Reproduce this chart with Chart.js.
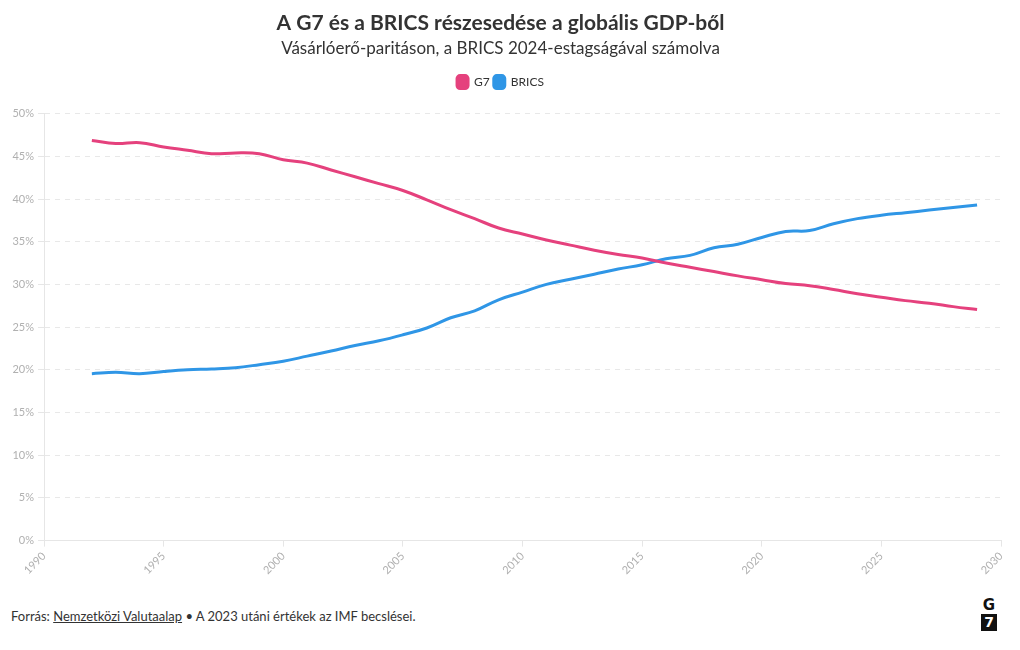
<!DOCTYPE html>
<html><head><meta charset="utf-8">
<script src="https://cdn.jsdelivr.net/npm/chart.js@4"></script>
<style>
html,body{margin:0;padding:0;background:#fff;}
body{width:1020px;height:650px;position:relative;overflow:hidden;font-family:"Lato","Noto Sans",sans-serif;}
#wrap{position:absolute;left:0;top:0;width:1020px;height:580px;}
#foot{position:absolute;left:11px;top:608px;font-size:13px;color:#333;}
#foot u{text-decoration:underline;}
#logo{position:absolute;left:981px;top:598px;width:16px;text-align:center;font-family:"DejaVu Sans",sans-serif;}
#logo .g{font-weight:bold;font-size:15px;line-height:15px;color:#111;}
#logo .s{background:#111;color:#fff;font-weight:bold;font-size:14px;line-height:17px;margin-top:1px;}
</style></head>
<body>
<div id="wrap"><canvas id="c"></canvas></div>
<div id="foot">Forrás: <u>Nemzetközi Valutaalap</u> • A 2023 utáni értékek az IMF becslései.</div>
<div id="logo"><div class="g">G</div><div class="s">7</div></div>
<script>
const years = [1992,1993,1994,1995,1996,1997,1998,1999,2000,2001,2002,2003,2004,2005,2006,2007,2008,2009,2010,2011,2012,2013,2014,2015,2016,2017,2018,2019,2020,2021,2022,2023,2024,2025,2026,2027,2028,2029];
const g7 = [46.85,46.5,46.6,46.1,45.7,45.3,45.4,45.3,44.6,44.2,43.4,42.6,41.8,41.0,39.9,38.75,37.7,36.6,35.9,35.2,34.6,34.0,33.5,33.1,32.5,32.0,31.5,31.0,30.55,30.1,29.85,29.4,28.9,28.5,28.1,27.8,27.4,27.05];
const brics = [19.55,19.7,19.55,19.8,20.0,20.1,20.25,20.6,21.0,21.6,22.2,22.85,23.4,24.1,24.9,26.1,26.9,28.2,29.1,30.0,30.6,31.2,31.8,32.3,33.0,33.4,34.3,34.7,35.5,36.2,36.3,37.1,37.7,38.1,38.4,38.7,39.0,39.3];
const seriesNames = ["G7","BRICS"];
const titleText = "A G7 és a BRICS részesedése a globális GDP-ből";
const subtitleText = "Vásárlóerő-paritáson, a BRICS 2024-estagságával számolva";

const FONT = "Lato";
const pts = arr => years.map((y,i)=>({x:y,y:arr[i]}));
const legendMargin = {id:'legendMargin', beforeInit(chart){
  const fit = chart.legend.fit;
  chart.legend.fit = function(){ fit.bind(chart.legend)(); this.height += 15; };
}};
new Chart(document.getElementById('c'), {
  type:'line',
  data:{datasets:[
    {label:seriesNames[0],data:pts(g7),borderColor:'#E5417D',backgroundColor:'#E5417D',borderWidth:3,pointRadius:0,tension:0.4},
    {label:seriesNames[1],data:pts(brics),borderColor:'#2F96E6',backgroundColor:'#2F96E6',borderWidth:3,pointRadius:0,tension:0.4}
  ]},
  plugins:[legendMargin],
  options:{
    responsive:true,maintainAspectRatio:false,animation:false,
    layout:{padding:{left:0,right:19,top:11,bottom:0}},
    plugins:{
      title:{display:true,text:titleText,color:'#333',font:{family:FONT,size:21,weight:'bold'},padding:{top:0,bottom:2}},
      subtitle:{display:true,text:subtitleText,color:'#333',font:{family:FONT,size:17},padding:{bottom:13}},
      legend:{display:true,labels:{color:'#333',font:{family:FONT,size:12},boxWidth:11,boxHeight:13,useBorderRadius:true,borderRadius:3,padding:4}},
      tooltip:{enabled:false}
    },
    scales:{
      x:{type:'linear',min:1990,max:2030,
        ticks:{stepSize:5,color:'#b0b0b0',font:{family:FONT,size:11},maxRotation:45,minRotation:45,callback:v=>String(v)},
        grid:{drawOnChartArea:false,drawTicks:true,tickLength:6,color:'#e6e6e6'},
        border:{color:'#e6e6e6'}},
      y:{min:0,max:50,
        afterFit:s=>{s.width=44;},
        ticks:{stepSize:5,color:'#b0b0b0',font:{family:FONT,size:11},padding:4,callback:v=>v+'%'},
        grid:{color:'#e8e8e8',tickLength:6,tickColor:'#e6e6e6'},
        border:{color:'#e6e6e6',dash:[5,5]}}
    }
  }
});
</script>
</body></html>
